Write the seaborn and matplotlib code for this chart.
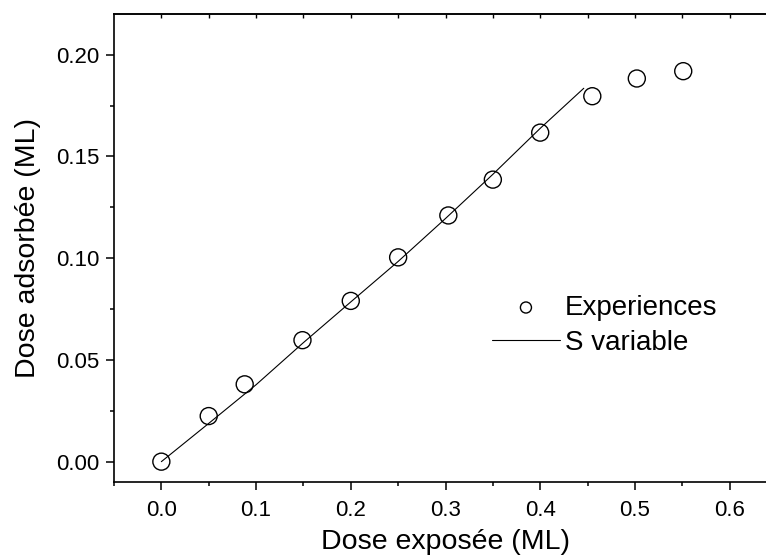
import matplotlib
matplotlib.use("Agg")
import matplotlib.pyplot as plt
import numpy as np
import pandas as pd
import seaborn as sns
from matplotlib.ticker import MultipleLocator

# Measured adsorption points
exp_x = [0.0, 0.05, 0.088, 0.149, 0.20, 0.25, 0.303, 0.35, 0.40, 0.455, 0.502, 0.551]
exp_y = [0.0, 0.0224, 0.038, 0.0597, 0.079, 0.1004, 0.121, 0.1386, 0.1617, 0.1796, 0.1883, 0.1919]

# Model curve with variable sticking coefficient
mod_x = [0.0, 0.05, 0.10, 0.15, 0.20, 0.25, 0.30, 0.35, 0.40, 0.446]
mod_y = [0.0, 0.0188, 0.0378, 0.0585, 0.0785, 0.0984, 0.1195, 0.1412, 0.1638, 0.1835]

x_ticks = [0.0, 0.1, 0.2, 0.3, 0.4, 0.5, 0.6]
y_ticks = [0.00, 0.05, 0.10, 0.15, 0.20]

sns.set_theme(style="ticks")
plt.rcParams["font.family"] = ["Liberation Sans", "DejaVu Sans"]
plt.rcParams["text.color"] = "black"
plt.rcParams["axes.labelcolor"] = "black"
plt.rcParams["xtick.color"] = "black"
plt.rcParams["ytick.color"] = "black"

df_exp = pd.DataFrame({"x": exp_x, "y": exp_y})
df_mod = pd.DataFrame({"x": mod_x, "y": mod_y})

W, H = 766, 556
fig = plt.figure(figsize=(W / 100, H / 100), dpi=100)
ax = fig.add_axes([114 / W, (H - 482) / H, 663 / W, 468 / H])

sns.lineplot(data=df_mod, x="x", y="y", ax=ax, color="black", linewidth=0.8,
             label="S variable", sort=False)
sns.scatterplot(data=df_exp, x="x", y="y", ax=ax, marker="o", s=150,
                facecolors="none", edgecolor="black", linewidth=1.0,
                label="Experiences")

ax.set_xlim(-0.05, 0.65)
ax.set_ylim(-0.01, 0.22)
ax.set_xticks(x_ticks)
ax.set_xticklabels([f"{v:.1f}" for v in x_ticks])
ax.set_yticks(y_ticks)
ax.set_yticklabels([f"{v:.2f}" for v in y_ticks])
ax.xaxis.set_minor_locator(MultipleLocator(0.05))
ax.yaxis.set_minor_locator(MultipleLocator(0.025))

for s in ax.spines.values():
    s.set_visible(True)
    s.set_linewidth(1.2)
    s.set_color("black")

ax.tick_params(axis="both", which="major", direction="out", length=6, width=1.1,
               labelsize=16, colors="black", pad=4.5,
               top=False, right=False)
ax.tick_params(axis="x", which="major", pad=7)
ax.tick_params(axis="both", which="minor", direction="out", length=3.2, width=1.1,
               top=False, right=False)
# Small inward ticks along the top edge
top = ax.secondary_xaxis("top")
top.set_xticks(np.arange(0.0, 0.65, 0.05))
top.tick_params(direction="in", length=3, width=1.0, labeltop=False)
top.set_xticklabels([])
top.spines["top"].set_linewidth(1.2)

ax.set_xlabel("Dose exposée (ML)", fontsize=20.5, labelpad=6)
ax.set_ylabel("Dose adsorbée (ML)", fontsize=20.5, labelpad=11)

h, l = ax.get_legend_handles_labels()
order = [l.index("Experiences"), l.index("S variable")]
ax.legend([h[i] for i in order], [l[i] for i in order],
          loc="upper left", bbox_to_anchor=(0.57, 0.40), frameon=False,
          fontsize=20, markerscale=0.65, handlelength=2.45, handletextpad=0.18,
          labelspacing=0.33, borderpad=0, borderaxespad=0)

fig.savefig("out.png", dpi=100)
